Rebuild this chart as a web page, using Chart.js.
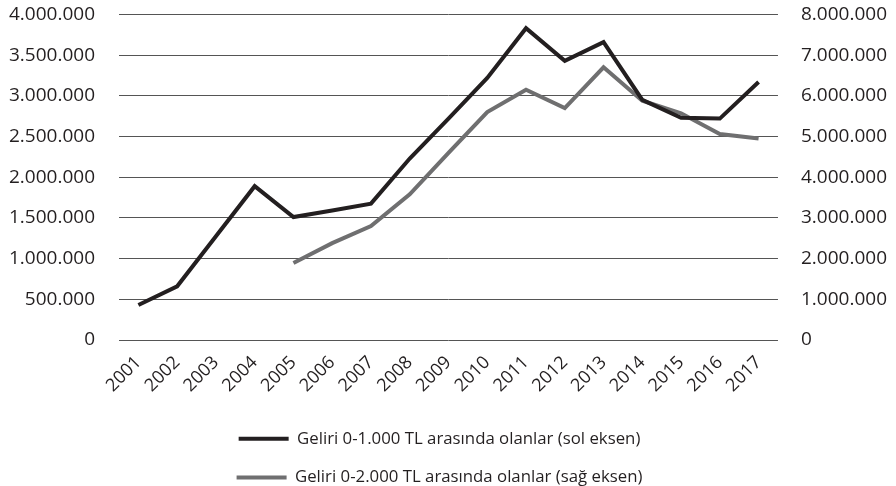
<!DOCTYPE html>
<html>
<head>
<meta charset="utf-8">
<script src="https://cdn.jsdelivr.net/npm/chart.js@4.4.1/dist/chart.umd.min.js"></script>
<style>
  html, body { margin: 0; padding: 0; background: #fff; }
  #wrap { width: 896px; height: 486px; }
</style>
</head>
<body>
<div id="wrap"><canvas id="c" width="896" height="486"></canvas></div>
<script>
const categories = ['2001','2002','2003','2004','2005','2006','2007','2008','2009','2010','2011','2012','2013','2014','2015','2016','2017'];
const seriesLeftName = 'Geliri 0-1.000 TL arasında olanlar (sol eksen)';
const seriesRightName = 'Geliri 0-2.000 TL arasında olanlar (sağ eksen)';
const seriesLeft = [430000, 660000, 1275000, 1890000, 1510000, 1590000, 1675000, 2230000, 2720000, 3220000, 3830000, 3430000, 3660000, 2950000, 2730000, 2720000, 3170000];
const seriesRight = [null, null, null, null, 1890000, 2380000, 2800000, 3580000, 4600000, 5600000, 6150000, 5700000, 6700000, 5880000, 5570000, 5060000, 4950000];
const leftTicks = [0, 500000, 1000000, 1500000, 2000000, 2500000, 3000000, 3500000, 4000000];
const rightTicks = [0, 1000000, 2000000, 3000000, 4000000, 5000000, 6000000, 7000000, 8000000];

function fmt(v) {
  return String(Math.round(v)).replace(/\B(?=(\d{3})+(?!\d))/g, '.');
}

const FONT = "'Open Sans', 'Noto Sans', sans-serif";
const TXT = '#231f20';

// nudge the legend block slightly left to match the reference placement
const legendShift = {
  id: 'legendShift',
  afterLayout(chart) {
    const lg = chart.legend;
    if (lg) { lg.left -= 9; lg.right -= 9; }
  }
};

new Chart(document.getElementById('c'), {
  type: 'line',
  plugins: [legendShift],
  data: {
    labels: categories,
    datasets: [
      {
        label: seriesLeftName,
        data: seriesLeft,
        yAxisID: 'yL',
        borderColor: '#231f20',
        backgroundColor: '#231f20',
        borderWidth: 4,
        pointRadius: 0,
        tension: 0,
        borderJoinStyle: 'miter'
      },
      {
        label: seriesRightName,
        data: seriesRight,
        yAxisID: 'yR',
        borderColor: '#6f6f70',
        backgroundColor: '#6f6f70',
        borderWidth: 4,
        pointRadius: 0,
        tension: 0,
        spanGaps: false,
        borderJoinStyle: 'miter'
      }
    ]
  },
  options: {
    responsive: false,
    animation: false,
    layout: { padding: { left: 6, right: 6, top: 4, bottom: -10 } },
    plugins: {
      tooltip: { enabled: false },
      legend: {
        position: 'bottom',
        fullSize: false,
        labels: {
          usePointStyle: true,
          pointStyle: 'line',
          pointStyleWidth: 50,
          color: TXT,
          font: { family: FONT, size: 16.8 },
          padding: 22,
          boxHeight: 17
        }
      }
    },
    scales: {
      x: {
        offset: true,
        grid: { display: false, drawTicks: false },
        border: { display: false },
        ticks: {
          color: TXT,
          font: { family: FONT, size: 18 },
          minRotation: 45,
          maxRotation: 45,
          padding: 12,
          autoSkip: false
        }
      },
      yL: {
        position: 'left',
        min: 0,
        max: 4000000,
        afterBuildTicks: s => { s.ticks = leftTicks.map(v => ({ value: v })); },
        grid: { color: '#555555', lineWidth: 1, drawTicks: true, tickLength: 21, tickColor: 'rgba(0,0,0,0)' },
        border: { display: false },
        ticks: {
          color: TXT,
          font: { family: FONT, size: 19 },
          padding: 3,
          callback: v => fmt(v)
        }
      },
      yR: {
        position: 'right',
        min: 0,
        max: 8000000,
        afterBuildTicks: s => { s.ticks = rightTicks.map(v => ({ value: v })); },
        grid: { drawOnChartArea: false, drawTicks: true, tickLength: 20, tickColor: 'rgba(0,0,0,0)', color: 'rgba(0,0,0,0)' },
        border: { display: false },
        ticks: {
          color: TXT,
          font: { family: FONT, size: 19 },
          padding: 3,
          callback: v => fmt(v)
        }
      }
    }
  }
});
</script>
</body>
</html>
